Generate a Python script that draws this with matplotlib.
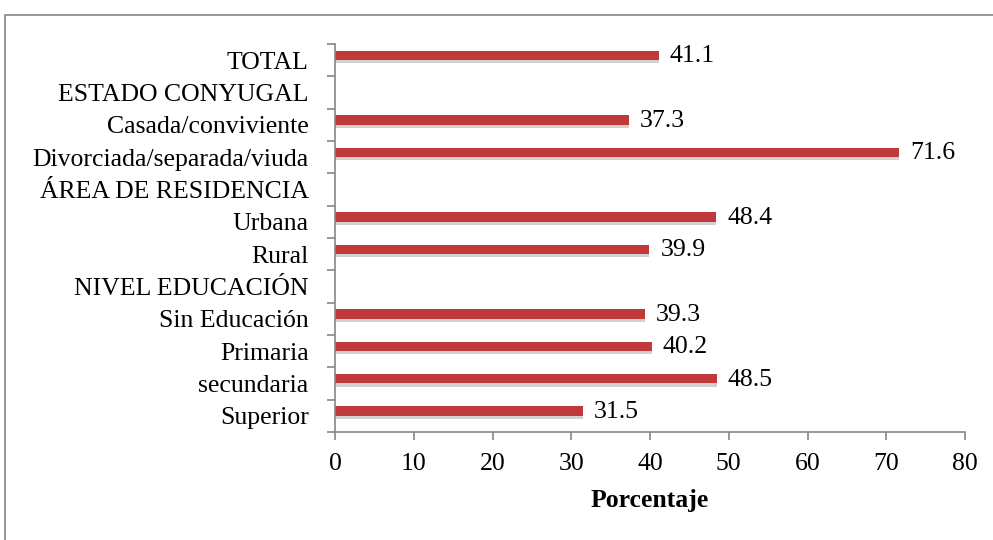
import numpy as np
import matplotlib
matplotlib.use("Agg")
import matplotlib.pyplot as plt
from matplotlib import rcParams
from matplotlib.patches import Rectangle
import matplotlib.patheffects as pe

# ── Style ─────────────────────────────────────────────────────────────────────
rcParams.update({
    "font.family": ["Liberation Serif", "DejaVu Serif"],
    "font.size":   18.5,
})

C_BAR   = "#C1393B"
C_AXIS  = "#868686"

# ── Data ──────────────────────────────────────────────────────────────────────
categories = ["TOTAL", "ESTADO CONYUGAL", "Casada/conviviente",
              "Divorciada/separada/viuda", "ÁREA DE RESIDENCIA", "Urbana",
              "Rural", "NIVEL EDUCACIÓN", "Sin Educación", "Primaria",
              "secundaria", "Superior"]
values = [41.1, None, 37.3, 71.6, None, 48.4, 39.9, None, 39.3, 40.2, 48.5, 31.5]
x_ticks = [0, 10, 20, 30, 40, 50, 60, 70, 80]

# ── Plot ──────────────────────────────────────────────────────────────────────
fig = plt.figure(figsize=(9.93, 5.40), dpi=100)
ax = fig.add_axes([0.3374, 0.2, 0.9718 - 0.3374, 0.9185 - 0.2])

# outer frame
fig.patches.append(Rectangle((5 / 993, -0.05), 1.1, 1 - 15 / 540 + 0.05,
                             transform=fig.transFigure, fill=False,
                             edgecolor=C_AXIS, lw=1.2))

n = len(categories)
pos = np.arange(n)
shadow = [pe.SimplePatchShadow(offset=(0, -2.5), shadow_rgbFace="#9a9a9a",
                               alpha=0.45), pe.Normal()]
for i, v in enumerate(values):
    if v is None:
        continue
    b = ax.barh(pos[i] - 0.15, v, height=0.28, color=C_BAR, edgecolor="none")
    b[0].set_path_effects(shadow)
    ax.text(v + 1.4, pos[i] - 0.12, f"{v:.1f}", va="center", ha="left")

ax.set_ylim(n - 0.5, -0.5)
ax.set_xlim(0, 80)
ax.set_xticks(x_ticks)
ax.set_yticks(pos)
ax.set_yticklabels(categories)
ax.set_yticks(np.arange(n + 1) - 0.5, minor=True)
ax.tick_params(axis="y", which="major", length=0, pad=19)
ax.tick_params(axis="y", which="minor", length=6, width=1.2, color=C_AXIS)
ax.tick_params(axis="x", length=6, width=1.2, color=C_AXIS, pad=9)

for s in ["top", "right"]:
    ax.spines[s].set_visible(False)
for s in ["left", "bottom"]:
    ax.spines[s].set_color(C_AXIS)
    ax.spines[s].set_linewidth(1.2)

ax.set_xlabel("Porcentaje", fontweight="bold", labelpad=10)

fig.savefig("out.png", dpi=100)
